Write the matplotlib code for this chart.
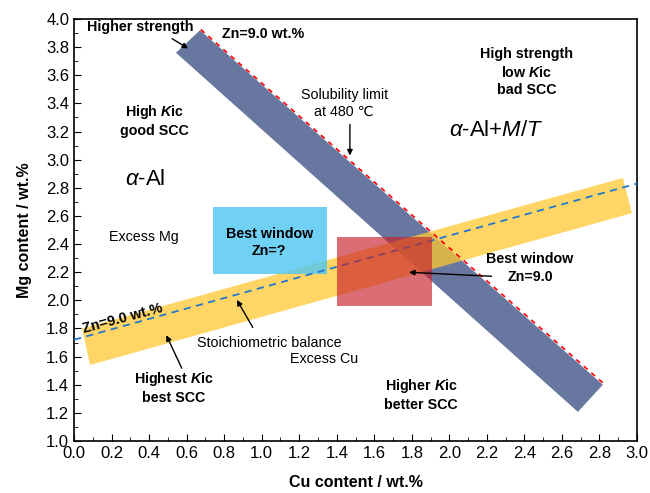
import matplotlib
matplotlib.use('Agg')
import matplotlib.pyplot as plt
from matplotlib.patches import Polygon, Rectangle
from matplotlib.ticker import MultipleLocator

plt.rcParams['font.family'] = ['Liberation Sans', 'DejaVu Sans']
plt.rcParams['mathtext.fontset'] = 'custom'
plt.rcParams['mathtext.rm'] = 'Liberation Sans'
plt.rcParams['mathtext.it'] = 'Liberation Sans:italic'
plt.rcParams['mathtext.bf'] = 'Liberation Sans:bold'
plt.rcParams['mathtext.bfit'] = 'Liberation Sans:bold:italic'

# 带状区域的角点 (Cu, Mg)
zn_band_cu = [0.543, 0.671, 2.818, 2.685]
zn_band_mg = [3.76, 3.92, 1.40, 1.207]
stoich_band_cu = [0.043, 2.925, 2.973, 0.085]
stoich_band_mg = [1.80, 2.87, 2.62, 1.54]

# 溶解度线 和 化学计量线
sol_cu = [0.675, 2.825]
sol_mg = [3.925, 1.405]
stoich_cu = [0.0, 3.0]
stoich_mg = [1.72, 2.83]

# 窗口 (x0, x1, y0, y1)
win_q = [0.74, 1.35, 2.19, 2.66]
win_9 = [1.40, 1.91, 1.96, 2.45]

fig = plt.figure(figsize=(6.5, 4.93), dpi=100)
ax = fig.add_axes([0.114, 0.1055, 0.866, 0.856])

ax.add_patch(Polygon(list(zip(zn_band_cu, zn_band_mg)), closed=True,
                     facecolor='#67779f', edgecolor='none', zorder=1))
ax.add_patch(Polygon(list(zip(stoich_band_cu, stoich_band_mg)), closed=True,
                     facecolor='#ffc832', alpha=0.75, edgecolor='none', zorder=2))
ax.plot(sol_cu, sol_mg, color='red', ls=(0, (3, 3)), lw=1.2, zorder=3)
ax.plot(stoich_cu, stoich_mg, color='#2277cc', ls=(0, (4, 3)), lw=1.3, zorder=3)
ax.add_patch(Rectangle((win_q[0], win_q[2]), win_q[1] - win_q[0], win_q[3] - win_q[2],
                       facecolor='#4cc6f2', alpha=0.8, edgecolor='none', zorder=2.5))
ax.add_patch(Rectangle((win_9[0], win_9[2]), win_9[1] - win_9[0], win_9[3] - win_9[2],
                       facecolor='#c8202a', alpha=0.65, edgecolor='none', zorder=4))

ax.set_xlim(0, 3.0)
ax.set_ylim(1.0, 4.0)
ax.xaxis.set_major_locator(MultipleLocator(0.2))
ax.xaxis.set_minor_locator(MultipleLocator(0.1))
ax.yaxis.set_major_locator(MultipleLocator(0.2))
ax.yaxis.set_minor_locator(MultipleLocator(0.1))
ax.xaxis.set_major_formatter(matplotlib.ticker.FormatStrFormatter('%.1f'))
ax.yaxis.set_major_formatter(matplotlib.ticker.FormatStrFormatter('%.1f'))
ax.tick_params(which='both', direction='in', top=False, right=False, labelsize=12)
ax.tick_params(which='major', length=5)
ax.tick_params(which='minor', length=3)
for s in ax.spines.values():
    s.set_linewidth(1.2)
ax.set_xlabel('Cu content / wt.%', fontsize=11.5, fontweight='bold', labelpad=10)
ax.set_ylabel('Mg content / wt.%', fontsize=11.5, fontweight='bold', labelpad=10)

fs = 10.3
arrow = dict(arrowstyle='-|>', color='black', lw=1, mutation_scale=8)
ax.text(0.35, 3.94, 'Higher strength', fontsize=fs, fontweight='bold', ha='center', va='center')
ax.annotate('', xy=(0.62, 3.78), xytext=(0.51, 3.87), arrowprops=arrow)
ax.text(1.01, 3.89, 'Zn=9.0 wt.%', fontsize=fs, fontweight='bold', ha='center', va='center')
ax.text(0.43, 3.28, 'High $\\mathbfit{K}$ic\ngood SCC', fontsize=fs, fontweight='bold',
        ha='center', va='center', linespacing=1.3)
ax.text(0.38, 2.86, '$\\mathit{\\alpha}$-Al', fontsize=16, ha='center', va='center')
ax.text(1.44, 3.40, 'Solubility limit\nat 480 \u2103', fontsize=fs, ha='center', va='center',
        linespacing=1.25)
ax.annotate('', xy=(1.47, 3.01), xytext=(1.47, 3.27), arrowprops=arrow)
ax.text(2.41, 3.62, 'High strength\nlow $\\mathbfit{K}$ic\nbad SCC', fontsize=fs,
        fontweight='bold', ha='center', va='center', linespacing=1.3)
ax.text(2.25, 3.21, '$\\mathit{\\alpha}$-Al+$\\mathit{M/T}$', fontsize=16, ha='center', va='center')
ax.text(0.37, 2.45, 'Excess Mg', fontsize=fs, ha='center', va='center')
ax.text(1.04, 2.41, 'Best window\nZn=?', fontsize=fs, fontweight='bold', ha='center',
        va='center', linespacing=1.3, zorder=5)
ax.text(2.43, 2.23, 'Best window\nZn=9.0', fontsize=fs, fontweight='bold', ha='center',
        va='center', linespacing=1.3)
ax.annotate('', xy=(1.77, 2.20), xytext=(2.24, 2.17), arrowprops=arrow, zorder=6)
ax.text(0.26, 1.87, 'Zn=9.0 wt.%', fontsize=fs, fontweight='bold', ha='center', va='center',
        rotation=15)
ax.text(1.04, 1.70, 'Stoichiometric balance', fontsize=fs, ha='center', va='center')
ax.annotate('', xy=(0.86, 2.02), xytext=(0.96, 1.79), arrowprops=arrow)
ax.text(1.33, 1.58, 'Excess Cu', fontsize=fs, ha='center', va='center')
ax.text(0.53, 1.38, 'Highest $\\mathbfit{K}$ic\nbest SCC', fontsize=fs, fontweight='bold',
        ha='center', va='center', linespacing=1.3)
ax.annotate('', xy=(0.485, 1.77), xytext=(0.58, 1.50), arrowprops=arrow)
ax.text(1.85, 1.33, 'Higher $\\mathbfit{K}$ic\nbetter SCC', fontsize=fs, fontweight='bold',
        ha='center', va='center', linespacing=1.3)

fig.savefig('out.png', dpi=100)
